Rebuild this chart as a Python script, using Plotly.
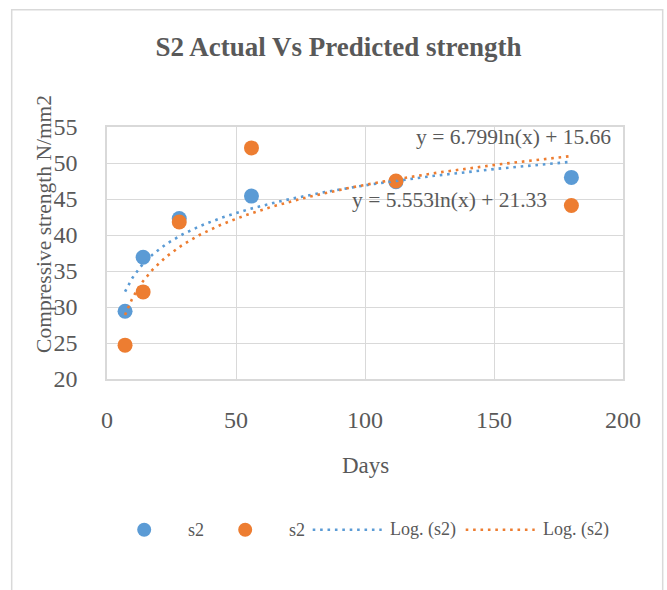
import numpy as np
import plotly.graph_objects as go

# Curing age (days) and compressive strength (N/mm2)
days = [7, 14, 28, 56, 112, 180]
actual_s2 = [29.4, 36.9, 42.3, 45.4, 47.4, 48.0]
predicted_s2 = [24.7, 32.1, 41.8, 52.1, 47.5, 44.1]

# Logarithmic trendline coefficients: y = a*ln(x) + b
blue_a, blue_b = 5.553, 21.33
orange_a, orange_b = 6.799, 15.66

BLUE = "#5B9BD5"
ORANGE = "#ED7D31"
GREY = "#595959"
GRID = "#D9D9D9"
FONT = "Liberation Serif"
DOT = "2.6px,4.8px"

x_fit = np.linspace(min(days), max(days), 200)
blue_fit = blue_a * np.log(x_fit) + blue_b
orange_fit = orange_a * np.log(x_fit) + orange_b

fig = go.Figure()
fig.add_trace(go.Scatter(x=days, y=actual_s2, mode="markers", name="s2",
                         marker=dict(color=BLUE, size=15)))
fig.add_trace(go.Scatter(x=days, y=predicted_s2, mode="markers", name="s2",
                         marker=dict(color=ORANGE, size=15)))
fig.add_trace(go.Scatter(x=x_fit, y=blue_fit, mode="lines", name="Log. (s2)",
                         line=dict(color=BLUE, width=2.6, dash=DOT)))
fig.add_trace(go.Scatter(x=x_fit, y=orange_fit, mode="lines", name="Log. (s2)",
                         line=dict(color=ORANGE, width=2.6, dash=DOT)))

# plot area in pixels: left 107, right 623, top 127, bottom 379
L, R, T, B = 107.3, 623.3, 127.3, 379.3
W, H = 667, 590


def px(xp):
    return (xp - L) / (R - L)


def py(yp):
    return (B - yp) / (B - T)


def note(text, x, y, size, xanchor="center", angle=0):
    return dict(text=text, x=x, y=y, xref="paper", yref="paper",
                xanchor=xanchor, yanchor="middle", textangle=angle,
                showarrow=False, font=dict(family=FONT, size=size, color=GREY))


annotations = [
    dict(text="y = 6.799ln(x) + 15.66", x=157.6, y=53.65, xref="x", yref="y",
         showarrow=False, font=dict(family=FONT, size=21.5, color=GREY)),
    dict(text="y = 5.553ln(x) + 21.33", x=132.8, y=44.9, xref="x", yref="y",
         showarrow=False, font=dict(family=FONT, size=21.5, color=GREY)),
    note("Compressive strength N/mm2", px(44), py(224.5), 21.5, angle=-90),
    note("Days", px(366), py(466), 23),
]

# legend row
leg_y = py(530)
annotations += [
    note("s2", px(186), leg_y, 18, xanchor="left"),
    note("s2", px(287), leg_y, 18, xanchor="left"),
    note("Log. (s2)", px(388), leg_y, 18, xanchor="left"),
    note("Log. (s2)", px(541), leg_y, 18, xanchor="left"),
]

shapes = [
    # chart frame
    dict(type="rect", xref="paper", yref="paper", x0=px(12), x1=px(663),
         y0=py(600), y1=py(10), line=dict(color=GRID, width=1.5), layer="below"),
    # legend symbols
    dict(type="circle", xref="paper", yref="paper", x0=px(137.5), x1=px(151.5),
         y0=py(537), y1=py(523), fillcolor=BLUE, line=dict(width=0)),
    dict(type="circle", xref="paper", yref="paper", x0=px(238.5), x1=px(252.5),
         y0=py(537), y1=py(523), fillcolor=ORANGE, line=dict(width=0)),
    dict(type="line", xref="paper", yref="paper", x0=px(313), x1=px(382),
         y0=leg_y, y1=leg_y, line=dict(color=BLUE, width=2.6, dash=DOT)),
    dict(type="line", xref="paper", yref="paper", x0=px(466), x1=px(535),
         y0=leg_y, y1=leg_y, line=dict(color=ORANGE, width=2.6, dash=DOT)),
]

fig.update_layout(
    width=W, height=H,
    margin=dict(l=L, r=W - R, t=T, b=H - B, pad=0),
    paper_bgcolor="white", plot_bgcolor="white",
    showlegend=False,
    title=dict(text="<b>S2 Actual Vs Predicted strength</b>", x=338.5 / W,
               xref="container", xanchor="center",
               y=1 - 47 / H, yref="container", yanchor="middle",
               font=dict(family=FONT, size=27, color=GREY)),
    xaxis=dict(range=[0, 200], dtick=50, showgrid=True, gridcolor=GRID,
               showline=True, mirror=True, linecolor=GRID, linewidth=1.5,
               zeroline=False, ticks="", ticklabelstandoff=18,
               tickfont=dict(family=FONT, size=24, color=GREY)),
    yaxis=dict(range=[20, 55], dtick=5, showgrid=True, gridcolor=GRID,
               showline=True, mirror=True, linecolor=GRID, linewidth=1.5,
               zeroline=False, ticks="", ticklabelstandoff=23,
               tickfont=dict(family=FONT, size=24, color=GREY)),
    annotations=annotations,
    shapes=shapes,
)

fig.write_html("out.html")
